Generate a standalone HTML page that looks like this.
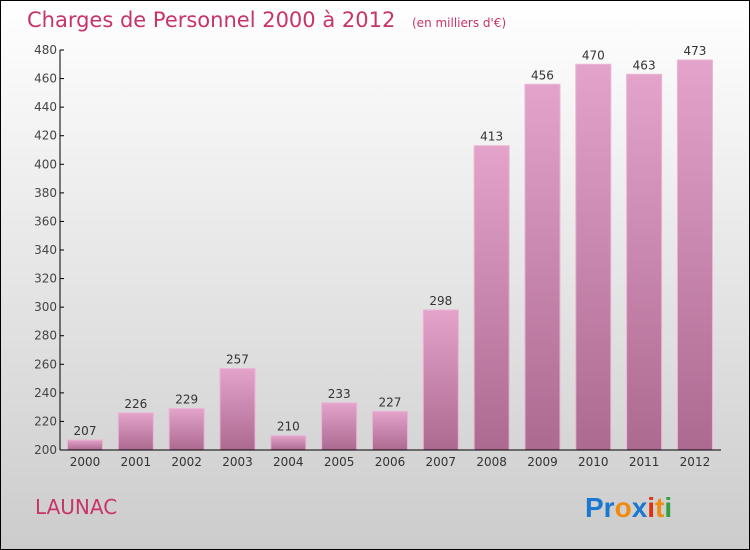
<!DOCTYPE html>
<html><head><meta charset="utf-8"><style>
body{margin:0}
#c{width:748px;height:548px;border:1px solid #000;background:linear-gradient(#ffffff,#cccccc);position:relative;font-family:"DejaVu Sans","Liberation Sans",sans-serif;overflow:hidden}
</style></head><body>
<div id="c">
<svg width="748" height="548">
<defs><linearGradient id="bg" x1="0" y1="0" x2="0" y2="1"><stop offset="0" stop-color="#e3a3cb"/><stop offset="1" stop-color="#ad6a91"/></linearGradient></defs>
<text x="26" y="26" font-size="21" fill="#c8336a">Charges de Personnel 2000 à 2012 <tspan font-size="12" dx="10">(en milliers d'€)</tspan></text>
<g id="plot"></g>
<text x="34" y="513" font-size="20" fill="#c8336a">LAUNAC</text>
<g font-size="28" font-weight="bold" font-family="Liberation Sans,sans-serif">
<text x="584" y="516"><tspan fill="#1a78d0">Pr</tspan><tspan fill="#f08a10">o</tspan><tspan fill="#1a78d0">x</tspan><tspan fill="#e03010">i</tspan><tspan fill="#f08a10">t</tspan><tspan fill="#30a040">i</tspan></text></g>
</svg></div>
<script>
const years=["2000","2001","2002","2003","2004","2005","2006","2007","2008","2009","2010","2011","2012"];
const values=[207,226,229,257,210,233,227,298,413,456,470,463,473];
const yTicks=[200,220,240,260,280,300,320,340,360,380,400,420,440,460,480];
const ns="http://www.w3.org/2000/svg",g=document.getElementById("plot");
const x0=59,y0=449,ymin=200,ymax=480,ytop=49,step=50.83,bw=35;
const y=v=>y0-(v-ymin)/(ymax-ymin)*(y0-ytop);
const xc=i=>84+i*step;
function mk(t,a){const e=document.createElementNS(ns,t);for(const k in a)e.setAttribute(k,a[k]);g.appendChild(e);return e;}
values.forEach((v,i)=>{
 const r=mk("rect",{x:xc(i)-bw/2,y:y(v),width:bw,height:y0-y(v),fill:"url(#bg)",stroke:"#eab4d4","stroke-width":1});
 
 
 const t=mk("text",{x:xc(i),y:y(v)-5,"text-anchor":"middle","font-size":12,fill:"#333"});t.textContent=v;
 
 
 const xl=mk("text",{x:xc(i),y:y0+16,"text-anchor":"middle","font-size":12,fill:"#333"});xl.textContent=years[i];
 
 
});
yTicks.forEach(v=>{
 const l=mk("line",{x1:x0,x2:x0+4,y1:y(v),y2:y(v),stroke:"#000"});
 
 
 const t=mk("text",{x:x0-3,y:y(v)+4,"text-anchor":"end","font-size":12,fill:"#444"});t.textContent=v;
 
 
});
const ya=mk("line",{x1:x0,x2:x0,y1:ytop,y2:y0,stroke:"#000"});


const xa=mk("line",{x1:x0,x2:720,y1:y0,y2:y0,stroke:"#000"});


</script>
</body></html>
